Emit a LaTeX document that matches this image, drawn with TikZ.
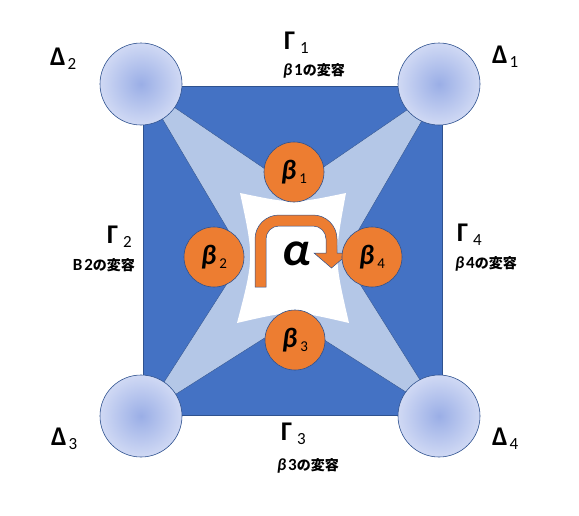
\documentclass[tikz,border=0pt]{standalone}
\usepackage{fontspec}
\setmainfont{Carlito}
\newfontfamily\jp{Noto Sans CJK JP}
\definecolor{sqblue}{RGB}{68,114,196}
\definecolor{edgeblue}{RGB}{47,82,143}
\definecolor{lightblue}{RGB}{180,199,231}
\definecolor{orng}{RGB}{237,125,49}
\definecolor{cin}{RGB}{154,174,230}
\definecolor{cout}{RGB}{208,217,244}
\newcommand{\biglab}[3]{{\fontsize{27}{27}\selectfont\bfseries #1}\hspace{#3}\raisebox{-4pt}{\fontsize{17}{17}\selectfont #2}}
\newcommand{\subnote}[2]{{\fontsize{17}{17}\selectfont\bfseries #1\hspace{2pt}#2}{\fontsize{14}{14}\selectfont\jp\bfseries の変容}}
\newcommand{\blab}[1]{{\fontsize{28}{28}\selectfont\bfseries\itshape β}\hspace{3pt}\raisebox{-4pt}{\fontsize{15}{15}\selectfont #1}}
\tikzset{
  sqnode/.style={rectangle, draw=edgeblue, line width=0.6pt, fill=sqblue, minimum width=299pt, minimum height=329pt, inner sep=0pt},
  starst/.style={draw=edgeblue, line width=0.4pt, fill=lightblue},
  whitest/.style={fill=white},
  cornerc/.style={circle, draw=edgeblue, line width=0.6pt, shade, inner color=cin, outer color=cout, minimum size=82pt, inner sep=0pt},
  bnode/.style={circle, draw=edgeblue, line width=0.6pt, fill=orng, minimum size=60pt, inner sep=0pt},
  arrowst/.style={draw=edgeblue, line width=0.5pt, fill=orng},
  lab/.style={inner sep=0pt, outer sep=0pt}
}
\begin{document}
\begin{tikzpicture}[x=1pt,y=-1pt]
\useasboundingbox (0,0) rectangle (579,515);
% square
\node[sqnode] (sq) at (292.5,250.75) {};
% light blue star
\draw[starst] (143,86) -- (293,188) -- (442,86) -- (343,257) -- (442,415) -- (293,320) -- (143,415) -- (244,257) -- cycle;
% white concave square
\fill[whitest] (240,193) .. controls (293,204) .. (346,193)
  .. controls (334,258) .. (349,323)
  .. controls (293,310) .. (237,323)
  .. controls (254,258) .. (240,193) -- cycle;
% corner circles
\node[cornerc] (c2) at (141,84) {};
\node[cornerc] (c1) at (439,84) {};
\node[cornerc] (c3) at (141,416) {};
\node[cornerc] (c4) at (439,416) {};
% U-turn arrow
\draw[arrowst] (255,287) -- (255,239) arc[start angle=180,end angle=270,radius=24] -- (313,215)
  arc[start angle=270,end angle=360,radius=24] -- (337,253) -- (349,253) -- (331.5,268) -- (314,253) -- (326,253) -- (326,239)
  arc[start angle=0,end angle=-90,radius=13] -- (279,226)
  arc[start angle=-90,end angle=-180,radius=13] -- (266,287) -- cycle;
\node[lab] (alpha) at (297,254) {\fontsize{48}{48}\selectfont\bfseries\itshape α};
% beta circles
\node[bnode] (b1) at (294,172) {\blab{1}};
\node[bnode] (b2) at (214,257) {\blab{2}};
\node[bnode] (b3) at (295,340) {\blab{3}};
\node[bnode] (b4) at (372,257) {\blab{4}};
% Delta labels
\node[lab, anchor=base west] (D2) at (50,65) {\biglab{Δ}{2}{2pt}};
\node[lab, anchor=base west] (D1) at (492,63) {\biglab{Δ}{1}{2pt}};
\node[lab, anchor=base west] (D3) at (51,445) {\biglab{Δ}{3}{2pt}};
\node[lab, anchor=base west] (D4) at (492,445) {\biglab{Δ}{4}{2pt}};
% Gamma labels
\node[lab, anchor=base west] (G1) at (284,49) {\biglab{Γ}{1}{5pt}};
\node[lab, anchor=base west] (G2) at (107,243) {\biglab{Γ}{2}{5pt}};
\node[lab, anchor=base west] (G3) at (281,440) {\biglab{Γ}{3}{5pt}};
\node[lab, anchor=base west] (G4) at (457,241) {\biglab{Γ}{4}{5pt}};
% sub notes
\node[lab, anchor=base west] (n1) at (283,75) {\subnote{\textit{β}}{1}};
\node[lab, anchor=base east] (n2) at (135,270) {\subnote{B}{2}};
\node[lab, anchor=base west] (n3) at (277,470) {\subnote{\textit{β}}{3}};
\node[lab, anchor=base west] (n4) at (455,268) {\subnote{\textit{β}}{4}};
\end{tikzpicture}
\end{document}
